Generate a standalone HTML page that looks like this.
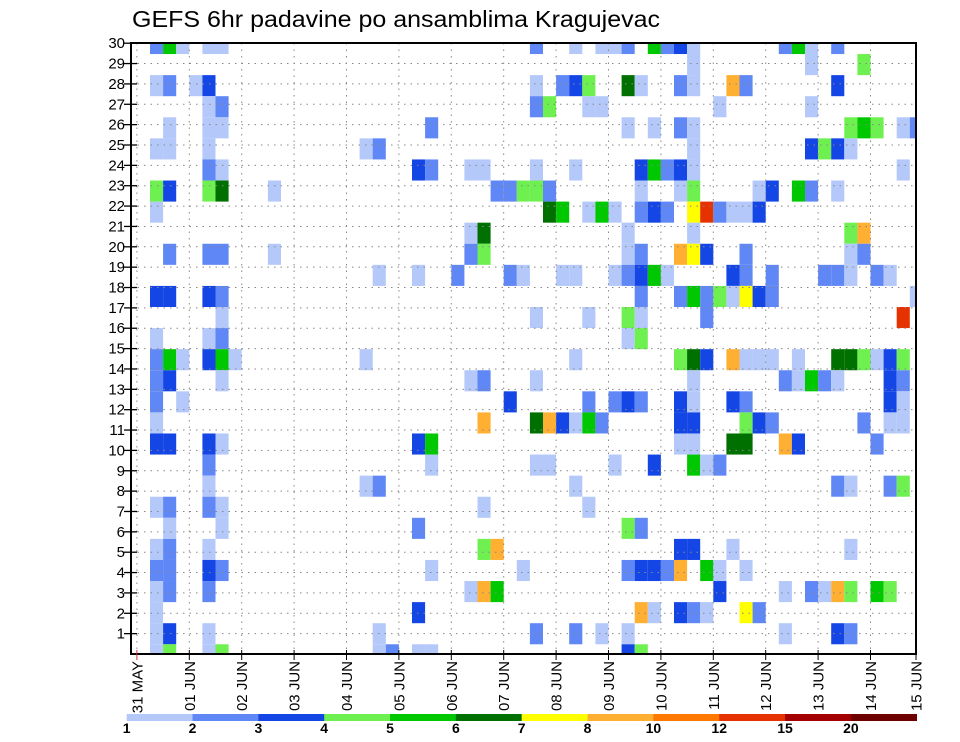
<!DOCTYPE html>
<html><head><meta charset="utf-8"><style>
html,body{margin:0;padding:0;background:#fff;}
svg{display:block;font-family:"Liberation Sans",sans-serif;}
</style></head><body>
<svg id="chart" width="960" height="742" viewBox="0 0 960 742" xmlns="http://www.w3.org/2000/svg">
<text x="132" y="27" font-size="23" textLength="528" lengthAdjust="spacingAndGlyphs">GEFS 6hr padavine po ansamblima Kragujevac</text>
<g id="cells"></g>
<g id="grid"></g>
<g id="axes"></g>
<g id="legend"></g>
</svg>
<script>
// ---- data ----
const members = [30,29,28,27,26,25,24,23,22,21,20,19,18,17,16,15,14,13,12,11,10,9,8,7,6,5,4,3,2,1];
// class code per 6-hourly step (60 steps from 31 MAY 00Z); '.' = none
const precip = [
".251.11..."+".........."+".........."+"2..1.112.5"+"231......2"+"51.2......",
".........."+".........."+".........."+".........."+"..1......."+".1...4....",
".12.13...."+".........."+".........."+"1.234..61."+".21..82..."+"...3......",
".....12..."+".........."+".........."+"24..11...."+"....1....."+".1........",
"..1..11..."+".........."+"..2......."+".......1.1"+".21......."+"....454.12",
".11..1...."+".......12."+".........."+".........."+"..1......."+".3431.....",
".....21..."+".........."+".32..11..."+"1..1....35"+"231......."+"........1.",
".43..46..."+"1........."+".......224"+"42......1."+".14....13."+"52.1......",
".1........"+".........."+".........."+".65.151.23"+"2.7a2113.."+"..........",
".........."+".........."+".....16..."+".......1.."+"..1......."+"....48....",
"..2..22..."+"1........."+".....24..."+".......12."+".873..2..."+"....12....",
".........."+"........1."+".1..2...21"+"..11..1235"+"1....32.2."+"..221.21..",
".33..32..."+".........."+".........."+"........2."+".25241732."+".........1",
"......1..."+".........."+".........."+"1...1..41."+"...2......"+"........a.",
".1...12..."+".........."+".........."+".......14."+".........."+"..........",
".251.351.."+".......1.."+".........."+"...1......"+".463.8111."+"1..664134.",
".23...1..."+".........."+".....12..."+"1........."+"..1......2"+"1521...32.",
".2.1......"+".........."+"........3."+"....2.232."+".31..32..."+".......31.",
".1........"+".........."+"......8..."+"683152...."+".33...432."+".....2.11.",
".33..31..."+".........."+".35......."+".........."+".11..66..8"+"3.....2...",
".....2...."+".........."+"..1......."+"11....1..3"+"..512....."+"..........",
".....1...."+".......12."+".........."+"...1......"+".........."+"...21..24.",
".12..21..."+".........."+"......1..."+"....1....."+".........."+"..........",
"..1...1..."+".........."+".2........"+".......42."+".........."+"..........",
".12..1...."+".........."+"......48.."+".........."+".33..1...."+"....1.....",
".22..32..."+".........."+"..1......1"+".......233"+"28.51.1..."+"..........",
".12..2...."+".........."+".....185.."+".........."+"....3....1"+".2184.54..",
".1........"+".........."+".3........"+"........81"+".321..72.."+"..........",
".13..1...."+"........1."+".........."+"2..2.1.1.."+".........1"+"...32.....",
".14..14..."+"........12"+".11......."+".......34."+".........."+".........."
];
const dayLabels = ["31 MAY","01 JUN","02 JUN","03 JUN","04 JUN","05 JUN","06 JUN","07 JUN","08 JUN","09 JUN","10 JUN","11 JUN","12 JUN","13 JUN","14 JUN","15 JUN"];
const yTicks = [1,2,3,4,5,6,7,8,9,10,11,12,13,14,15,16,17,18,19,20,21,22,23,24,25,26,27,28,29,30];
const legendLabels = ["1","2","3","4","5","6","7","8","10","12","15","20"];
const legendColors = ["#b4c8fa","#5f87f5","#1446e6","#6ef050","#00c800","#007000","#ffff00","#ffaf32","#ff7800","#e63200","#a50000","#6e0000"];
const classCodes = "123456789abc";

// ---- scales ----
const PL=131, PR=916, PT=43, PB=654;
const stepW = 13.1, x0 = 136.9;
function xStep(i){ return x0 + i*stepW; }
function xDay(d){ return Math.min(x0 + d*4*stepW, PR); }
function yCell(m){ return 43.5 + (30-m)*21.08; }      // cell centre for member m
function yTick(v){ return PB - v*20.36; }
const NS="http://www.w3.org/2000/svg";
function el(tag, attrs, parent){ const e=document.createElementNS(NS,tag); for(const k in attrs) e.setAttribute(k,attrs[k]); parent.appendChild(e); return e; }

// clip
const defs = el('defs',{},document.getElementById('chart'));
const cp = el('clipPath',{id:'plotclip'},defs);
el('rect',{x:PL,y:PT,width:PR-PL,height:PB-PT},cp);

// cells
const gc = document.getElementById('cells');
gc.setAttribute('clip-path','url(#plotclip)');
members.forEach((m, r) => {
  const row = precip[r];
  for (let i=0;i<row.length;i++){
    const c = row[i];
    const k = classCodes.indexOf(c);
    if (k<0) continue;
    const h = 21.08;
    const rc = el('rect',{x:xStep(i).toFixed(2), y:(yCell(m)-h/2).toFixed(2), width:stepW, height:h, fill:legendColors[k]}, gc);
    
    
  }
});

// grid
const gg = document.getElementById('grid');
yTicks.forEach(v => {
  const ln = el('line',{x1:PL,x2:PR,y1:yTick(v),y2:yTick(v),stroke:'#888','stroke-width':1,'stroke-dasharray':'1.5 5'},gg);
  
  
});
for (let d=0; d<15; d++){
  const ln = el('line',{x1:xDay(d),x2:xDay(d),y1:PT,y2:PB,stroke:'#888','stroke-width':1,'stroke-dasharray':'1.5 5'},gg);
  
  
}

// axes
const ga = document.getElementById('axes');
const frame = el('rect',{x:PL,y:PT,width:PR-PL,height:PB-PT,fill:'none',stroke:'#000','stroke-width':2},ga);


yTicks.forEach(v => {
  const t = el('line',{x1:124,x2:137,y1:yTick(v),y2:yTick(v),stroke:'#000','stroke-width':1.3},ga);
  
  
  const lb = el('text',{x:125,y:yTick(v)+5,'font-size':15,'text-anchor':'end'},ga);
  lb.textContent = String(v);
  
  
});
dayLabels.forEach((s,d) => {
  const x = xDay(d);
  const t = el('line',{x1:x,x2:x,y1:PB-4,y2:PB+6,stroke:d===0?'#c33':'#000','stroke-width':1},ga);
  
  
  const lb = el('text',{x:0,y:0,'font-size':15,'text-anchor':'end',transform:'translate('+(x+5.5)+',661) rotate(-90)'},ga);
  lb.textContent = s;
  
  
});

// legend
const gl = document.getElementById('legend');
const LX0=126.7, LX1=916.7, segW=(LX1-LX0)/legendColors.length;
legendColors.forEach((c,k) => {
  const r = el('rect',{x:LX0+k*segW,y:714,width:segW+0.3,height:7,fill:c},gl);
  
  
});
legendLabels.forEach((s,k) => {
  const t = el('text',{x:LX0+k*segW,y:733,'font-size':14,'font-weight':'bold','text-anchor':'middle'},gl);
  t.textContent = s;
  
  
});
</script>
</body></html>
